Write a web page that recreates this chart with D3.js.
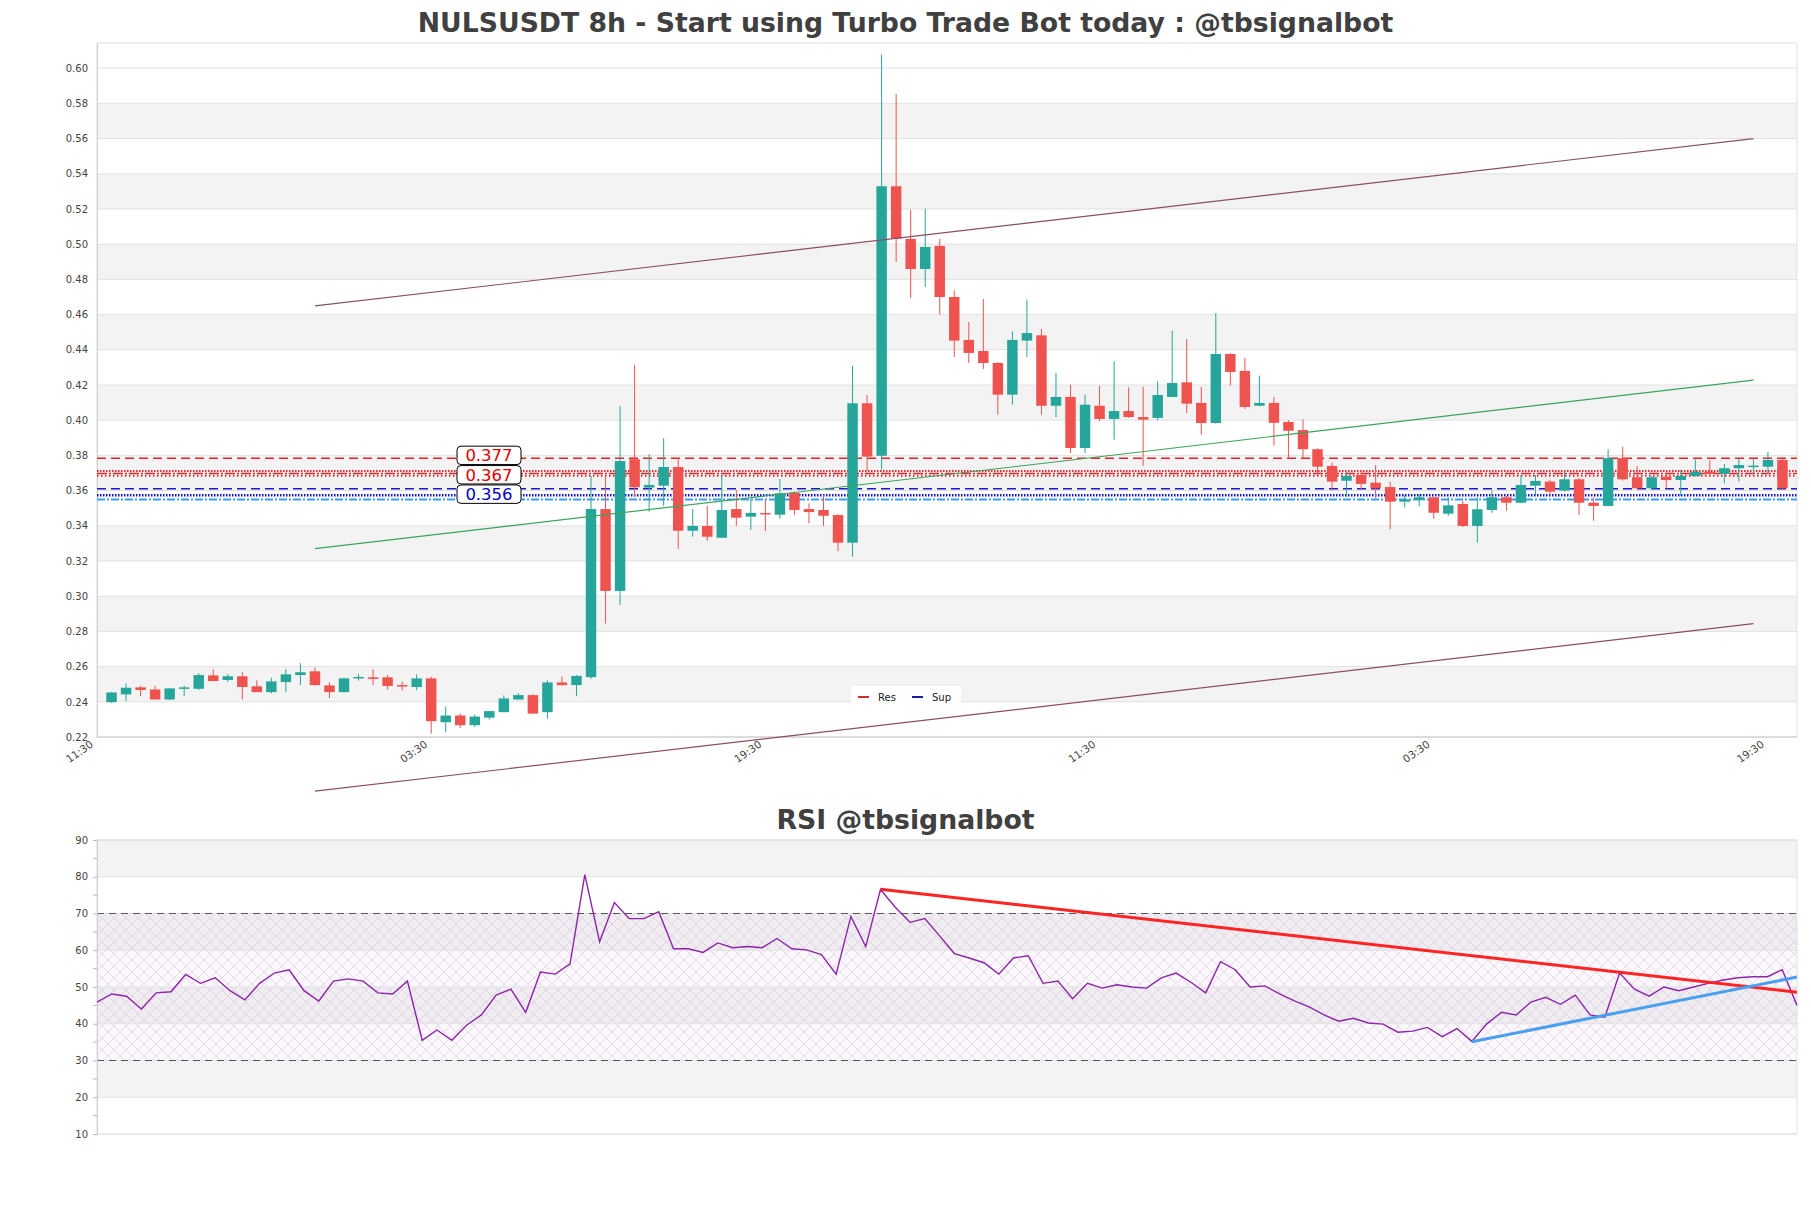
<!DOCTYPE html>
<html><head><meta charset="utf-8">
<script src="https://cdn.jsdelivr.net/npm/d3@7/dist/d3.min.js"></script>
<style>
body{margin:0;background:#fff}
svg{display:block}
text{font-family:"DejaVu Sans",sans-serif}
</style>
</head><body>
<svg id="chart" width="1811" height="1208"></svg>
<script>
// ---------------- DATA ----------------
const titleMain = "NULSUSDT 8h - Start using Turbo Trade Bot today : @tbsignalbot";
const titleRsi = "RSI @tbsignalbot";
const timeLabels = ["11:30","03:30","19:30","11:30","03:30","19:30"];
const timeLabelSlots = [0,23,46,69,92,115];
const priceTicks = [0.22,0.24,0.26,0.28,0.30,0.32,0.34,0.36,0.38,0.40,0.42,0.44,0.46,0.48,0.50,0.52,0.54,0.56,0.58,0.60];
const rsiTicks = [10,20,30,40,50,60,70,80,90];
const rsiMinorTicks = [15,25,35,45,55,65,75,85];

const openVals = [0.2398,0.2442,0.2482,0.2470,0.2413,0.2474,0.2474,0.2550,0.2524,0.2545,
0.2488,0.2455,0.2512,0.2552,0.2573,0.2493,0.2455,0.2533,0.2539,0.2539,
0.2495,0.2484,0.2533,0.2284,0.2322,0.2267,0.2310,0.2341,0.2413,0.2438,
0.2341,0.2510,0.2495,0.2540,0.3495,0.3030,0.3778,0.3617,0.3628,0.3734,
0.3372,0.3399,0.3332,0.3495,0.3452,0.3473,0.3463,0.3588,0.3495,0.3490,
0.3461,0.3304,0.4096,0.3798,0.5329,0.5030,0.4859,0.4990,0.4700,0.4456,
0.4393,0.4325,0.4145,0.4452,0.4482,0.4082,0.4132,0.3842,0.4082,0.4007,
0.4052,0.4018,0.4013,0.4132,0.4215,0.4098,0.3984,0.4376,0.4280,0.4082,
0.4098,0.3990,0.3944,0.3835,0.3740,0.3656,0.3689,0.3645,0.3620,0.3537,
0.3547,0.3562,0.3469,0.3524,0.3399,0.3490,0.3562,0.3531,0.3628,0.3651,
0.3600,0.3664,0.3531,0.3513,0.3784,0.3676,0.3613,0.3679,0.3660,0.3683,
0.3707,0.3695,0.3727,0.3736,0.3736,0.3774];
const closeVals = [0.2453,0.2480,0.2467,0.2413,0.2476,0.2482,0.2552,0.2518,0.2545,0.2484,
0.2455,0.2516,0.2556,0.2568,0.2495,0.2455,0.2533,0.2541,0.2530,0.2490,
0.2490,0.2533,0.2290,0.2322,0.2267,0.2316,0.2347,0.2419,0.2438,0.2333,
0.2510,0.2495,0.2547,0.3495,0.3030,0.3768,0.3619,0.3632,0.3734,0.3372,
0.3399,0.3338,0.3490,0.3446,0.3473,0.3465,0.3585,0.3490,0.3478,0.3457,
0.3304,0.4096,0.3793,0.5329,0.5031,0.4859,0.4984,0.4700,0.4452,0.4382,
0.4325,0.4145,0.4456,0.4495,0.4082,0.4132,0.3842,0.4088,0.4007,0.4052,
0.4018,0.4003,0.4143,0.4211,0.4094,0.3984,0.4376,0.4274,0.4075,0.4098,
0.3985,0.3940,0.3835,0.3736,0.3651,0.3683,0.3638,0.3613,0.3537,0.3550,
0.3562,0.3474,0.3516,0.3399,0.3494,0.3562,0.3531,0.3632,0.3655,0.3594,
0.3664,0.3531,0.3513,0.3784,0.3664,0.3613,0.3676,0.3660,0.3683,0.3707,
0.3695,0.3727,0.3745,0.3742,0.3774,0.3613];
const highVals = [0.2455,0.2505,0.2491,0.2491,0.2476,0.2491,0.2562,0.2585,0.2558,0.2568,
0.2522,0.2537,0.2585,0.2619,0.2594,0.2510,0.2537,0.2558,0.2585,0.2552,
0.2514,0.2556,0.2543,0.2373,0.2333,0.2328,0.2347,0.2436,0.2448,0.2442,
0.2522,0.2543,0.2551,0.3683,0.3680,0.4081,0.4314,0.3808,0.3897,0.3789,
0.3495,0.3514,0.3683,0.3603,0.3552,0.3552,0.3666,0.3595,0.3528,0.3575,
0.3465,0.4308,0.4143,0.6077,0.5853,0.5196,0.5202,0.5030,0.4738,0.4558,
0.4688,0.4330,0.4505,0.4685,0.4518,0.4268,0.4202,0.4145,0.4196,0.4335,
0.4187,0.4189,0.4221,0.4509,0.4461,0.4189,0.4609,0.4380,0.4353,0.4253,
0.4132,0.4000,0.4005,0.3840,0.3759,0.3707,0.3713,0.3745,0.3651,0.3575,
0.3581,0.3565,0.3562,0.3543,0.3562,0.3600,0.3569,0.3689,0.3689,0.3661,
0.3707,0.3670,0.3562,0.3835,0.3849,0.3740,0.3683,0.3702,0.3717,0.3778,
0.3772,0.3751,0.3789,0.3778,0.3821,0.3789];
const lowVals = [0.2394,0.2404,0.2432,0.2413,0.2410,0.2432,0.2467,0.2518,0.2512,0.2413,
0.2455,0.2448,0.2455,0.2495,0.2491,0.2421,0.2451,0.2520,0.2495,0.2470,
0.2465,0.2465,0.2219,0.2227,0.2251,0.2257,0.2299,0.2341,0.2413,0.2330,
0.2305,0.2491,0.2432,0.2530,0.2845,0.2950,0.3565,0.3480,0.3514,0.3268,
0.3338,0.3315,0.3332,0.3400,0.3376,0.3370,0.3440,0.3463,0.3414,0.3400,
0.3256,0.3224,0.3713,0.3719,0.4899,0.4694,0.4757,0.4600,0.4359,0.4325,
0.4291,0.4031,0.4088,0.4359,0.4031,0.4018,0.3814,0.3814,0.3994,0.3889,
0.4013,0.3741,0.3999,0.4132,0.4041,0.3918,0.3980,0.4196,0.4064,0.4079,
0.3855,0.3784,0.3784,0.3689,0.3599,0.3565,0.3607,0.3556,0.3380,0.3505,
0.3511,0.3439,0.3456,0.3393,0.3304,0.3474,0.3486,0.3528,0.3569,0.3575,
0.3594,0.3461,0.3429,0.3510,0.3656,0.3607,0.3607,0.3613,0.3569,0.3680,
0.3680,0.3641,0.3651,0.3695,0.3695,0.3603];

// one RSI value per candle
const rsiVals = [45.9,48.1,47.5,44.0,48.4,48.7,53.4,51.0,52.5,49.0,
46.5,51.0,53.8,54.7,49.0,46.2,51.6,52.2,51.6,48.4,
48.1,51.6,35.5,38.3,35.5,39.6,42.4,47.8,49.4,43.1,
54.1,53.5,56.3,80.6,62.3,73.0,68.6,68.6,70.5,60.4,
60.4,59.4,62.0,60.7,61.0,60.7,63.2,60.4,60.1,58.8,
53.5,69.2,61.0,76.5,71.7,67.6,68.6,63.9,59.1,57.9,
56.6,53.5,57.9,58.5,51.0,51.6,46.8,51.0,49.7,50.6,
50.0,49.7,52.5,53.8,51.3,48.4,56.9,54.7,50.0,50.3,
48.1,46.2,44.6,42.4,40.7,41.5,40.2,39.9,37.7,38.0,
39.0,36.5,38.7,35.2,39.9,43.1,42.4,45.9,47.2,45.3,
47.8,42.4,41.8,53.8,49.4,47.5,50.0,49.0,50.0,51.0,
51.9,52.5,52.8,52.8,54.7,45.0];

// support / resistance levels
const resLabels = ["0.377","0.367"];
const supLabels = ["0.356"];
const resLevelVals = [0.3770,0.3670];
const supLevelVals = [0.3560];
const resDashedVal = 0.3784;
const resDottedVals = [0.3711,0.3697,0.3684];
const supDashedVal = 0.3611;
const supDottedVal = 0.3573;
const supLightVal = 0.3550;

// channel / trend lines [slotStart, valueStart, slotEnd, valueEnd]
const upperChannel = [15, 0.4649, 114, 0.5600];
const lowerChannel = [15, 0.1892, 114, 0.2844];
const midTrend = [15, 0.3270, 114, 0.4228];
// RSI trend lines [rsiIndexStart, valueStart, rsiIndexEnd, valueEnd]
const rsiResTrend = [53, 76.6, 115, 48.6];
const rsiSupTrend = [93, 35.1, 115, 52.7];

// ---------------- DRAWING ----------------
const svg = d3.select("#chart");
const W = 1811;
const L = 97, R = 1797, T = 43, B = 737;
const RT = 840, RB = 1134;
const GREEN = "#26a69a", RED = "#ef5350";

const nSlots = openVals.length + 2; // candles occupy slots 1..n
const x = d3.scalePoint().domain(d3.range(nSlots)).range([L, R]);
const step = x.step();
const xr = d3.scaleLinear().domain([0, rsiVals.length-1]).range([L, R]);
const y = d3.scaleLinear().domain([0.22, 0.6143]).range([B, T]);
const yr = d3.scaleLinear().domain([10, 90]).range([RB, RT]);

// defs
const defs = svg.append("defs");
const pat = defs.append("pattern").attr("id","hatch").attr("patternUnits","userSpaceOnUse")
  .attr("width",12).attr("height",12);
pat.append("path").attr("d","M0,0 L12,12 M12,0 L0,12").attr("stroke","rgba(200,160,215,0.45)").attr("stroke-width",0.8);

// title
svg.append("text").attr("x", W/2).attr("y", 32).attr("text-anchor","middle")
  .attr("font-size",26.7).attr("font-weight","bold").attr("fill","#404040").text(titleMain);

// ---- main chart background bands
const mainG = svg.append("g");
const bandTicks = priceTicks.concat([y.domain()[1]]);
for (let k = 0; k < bandTicks.length-1; k++) {
  mainG.append("rect").attr("x", L).attr("width", R-L)
    .attr("y", y(bandTicks[k+1])).attr("height", y(bandTicks[k]) - y(bandTicks[k+1]))
    .attr("fill", (k % 2 === 1 && k < priceTicks.length-1) ? "#f3f3f3" : "#ffffff");
}
mainG.selectAll("line.grid").data(priceTicks).join("line")
  .attr("x1", L).attr("x2", R).attr("y1", d=>y(d)).attr("y2", d=>y(d))
  .attr("stroke","#e2e2e2").attr("stroke-width",1);
mainG.append("rect").attr("x",L).attr("y",T).attr("width",R-L).attr("height",B-T)
  .attr("fill","none").attr("stroke","#e0e0e0");

// y axis
const yAxis = d3.axisLeft(y).tickValues(priceTicks).tickFormat(d3.format(".2f")).tickSize(0).tickPadding(9);
const yAxG = svg.append("g").attr("transform",`translate(${L},0)`).call(yAxis);
yAxG.select(".domain").attr("stroke","#cfcfcf");
yAxG.selectAll("text").attr("font-size",10).attr("fill","#444").attr("font-family","DejaVu Sans, sans-serif");

// x axis line
svg.append("line").attr("x1",L).attr("x2",R).attr("y1",B).attr("y2",B).attr("stroke","#cfcfcf");
// x labels
svg.selectAll("text.xl").data(timeLabels).join("text").attr("class","xl")
  .attr("transform",(d,i)=>`translate(${x(timeLabelSlots[i])-3},${B+9}) rotate(-35)`)
  .attr("text-anchor","end").attr("font-size",10.5).attr("fill","#444").text(d=>d);

// ---- S/R lines
const srG = svg.append("g");
function hline(v, color, width, dash) {
  srG.append("line").attr("x1",L).attr("x2",R).attr("y1",y(v)).attr("y2",y(v))
    .attr("stroke",color).attr("stroke-width",width).attr("stroke-dasharray",dash);
}
hline(resDashedVal, "#e8242a", 1.5, "9,5");
hline(resDottedVals[0], "#e8242a", 2, "1.5,1.5");
hline(resDottedVals[1], "#e8242a", 1.3, "10,2,2,2");
hline(resDottedVals[2], "#e8242a", 2, "1.5,2.5");
hline(supDashedVal, "#1a1acc", 1.5, "9,5");
hline(supDottedVal, "#1010ee", 2.5, "1.5,1.5");
hline(supLightVal, "#3b9cff", 2, "8,2,2,2");

// ---- candles
const candles = openVals.map((o,i)=>({slot:i+1,o,c:closeVals[i],h:highVals[i],l:lowVals[i]}));
const bw = step*0.72;
const cg = svg.append("g");
cg.selectAll("line.wick").data(candles).join("line")
  .attr("x1",d=>x(d.slot)).attr("x2",d=>x(d.slot))
  .attr("y1",d=>y(d.h)).attr("y2",d=>y(d.l))
  .attr("stroke",d=>d.c>=d.o?GREEN:RED).attr("stroke-width",1);
cg.selectAll("rect.body").data(candles).join("rect")
  .attr("x",d=>x(d.slot)-bw/2).attr("width",bw)
  .attr("y",d=>y(Math.max(d.o,d.c)))
  .attr("height",d=>Math.max(1.5, Math.abs(y(d.o)-y(d.c))))
  .attr("fill",d=>d.c>=d.o?GREEN:RED);

// ---- trend lines
function tline(g, sx, sy, t, color, width) {
  g.append("line").attr("x1",sx(t[0])).attr("y1",sy(t[1])).attr("x2",sx(t[2])).attr("y2",sy(t[3]))
    .attr("stroke",color).attr("stroke-width",width);
}
tline(svg, x, y, upperChannel, "#8a4f63", 1.2);
tline(svg, x, y, lowerChannel, "#8a4f63", 1.2);
tline(svg, x, y, midTrend, "#3aa55a", 1.2);

// ---- S/R labels (stacked so boxes do not collide)
const labG = svg.append("g");
const labItems = resLabels.map((t,i)=>({t,v:resLevelVals[i],c:"#e00000"}))
  .concat(supLabels.map((t,i)=>({t,v:supLevelVals[i],c:"#0000cc"})));
const labGap = 19.4;
let prevCy = -Infinity;
labItems.forEach(d=>{
  let cy = y(d.v) - 5.5;
  if (cy < prevCy + labGap) cy = prevCy + labGap;
  prevCy = cy;
  labG.append("rect").attr("x",457).attr("y",cy-9).attr("width",64).attr("height",18.4)
    .attr("rx",4).attr("fill","#fff").attr("stroke","#000").attr("stroke-width",1);
  labG.append("text").attr("x",489).attr("y",cy+6).attr("text-anchor","middle")
    .attr("font-size",16.5).attr("fill",d.c).text(d.t);
});

// ---- legend
const lg = svg.append("g");
lg.append("rect").attr("x",851).attr("y",686).attr("width",110).attr("height",20).attr("fill","#fff");
lg.append("line").attr("x1",858).attr("x2",869).attr("y1",697).attr("y2",697).attr("stroke","#d32f2f").attr("stroke-width",2);
lg.append("text").attr("x",878).attr("y",700.5).attr("font-size",10).attr("fill","#222").text("Res");
lg.append("line").attr("x1",912).attr("x2",923).attr("y1",697).attr("y2",697).attr("stroke","#1a1aa6").attr("stroke-width",2);
lg.append("text").attr("x",932).attr("y",700.5).attr("font-size",10).attr("fill","#222").text("Sup");

// ---------------- RSI ----------------
svg.append("text").attr("x", W/2).attr("y", 829).attr("text-anchor","middle")
  .attr("font-size",26.7).attr("font-weight","bold").attr("fill","#404040").text(titleRsi);
const rg = svg.append("g");
for (let k = 0; k < rsiTicks.length-1; k++) {
  rg.append("rect").attr("x",L).attr("width",R-L).attr("y",yr(rsiTicks[k+1]))
    .attr("height",yr(rsiTicks[k])-yr(rsiTicks[k+1]))
    .attr("fill", k%2===1 ? "#f3f3f3" : "#ffffff");
}
rg.append("rect").attr("x",L).attr("width",R-L).attr("y",yr(70)).attr("height",yr(30)-yr(70))
  .attr("fill","url(#hatch)");
rg.append("rect").attr("x",L).attr("width",R-L).attr("y",yr(70)).attr("height",yr(30)-yr(70))
  .attr("fill","rgba(215,195,225,0.12)");
rg.selectAll("line.g").data(rsiTicks).join("line")
  .attr("x1",L).attr("x2",R).attr("y1",d=>yr(d)).attr("y2",d=>yr(d)).attr("stroke","#e2e2e2");
rg.append("rect").attr("x",L).attr("y",RT).attr("width",R-L).attr("height",RB-RT)
  .attr("fill","none").attr("stroke","#e0e0e0");
[70,30].forEach(v=>{
  rg.append("line").attr("x1",L).attr("x2",R).attr("y1",yr(v)).attr("y2",yr(v))
    .attr("stroke","#555").attr("stroke-width",1.2).attr("stroke-dasharray","7,5");
});
const ryAxis = d3.axisLeft(yr).tickValues(rsiTicks).tickSize(4).tickPadding(5);
const ryG = svg.append("g").attr("transform",`translate(${L},0)`).call(ryAxis);
ryG.select(".domain").attr("stroke","#cfcfcf");
ryG.selectAll(".tick line").attr("stroke","#bbb");
ryG.selectAll("text").attr("font-size",10).attr("fill","#444").attr("font-family","DejaVu Sans, sans-serif");
svg.selectAll("line.minor").data(rsiMinorTicks).join("line").attr("class","minor")
  .attr("x1",L-4).attr("x2",L).attr("y1",d=>yr(d)).attr("y2",d=>yr(d)).attr("stroke","#bbb");

// RSI line
svg.append("path").datum(rsiVals)
  .attr("d", d3.line().x((d,i)=>xr(i)).y(d=>yr(d)))
  .attr("fill","none").attr("stroke","#8e24aa").attr("stroke-width",1.4);

tline(svg, xr, yr, rsiResTrend, "#ff2424", 3);
tline(svg, xr, yr, rsiSupTrend, "#4a9ff0", 3);
</script>
</body></html>
